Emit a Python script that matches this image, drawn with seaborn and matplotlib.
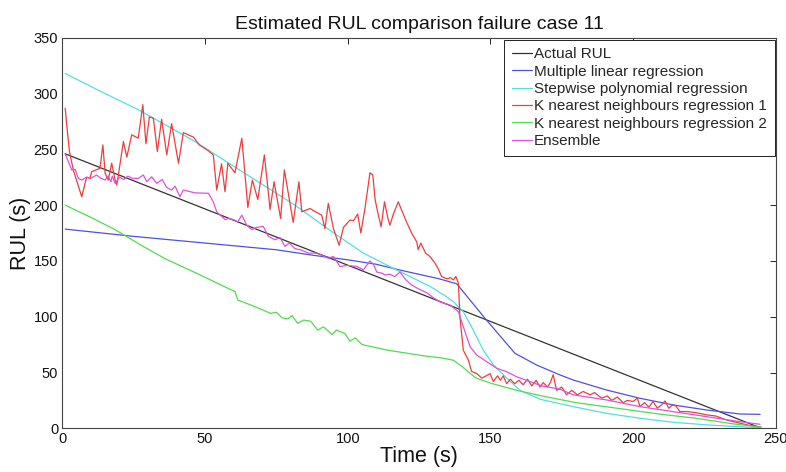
import matplotlib
matplotlib.use("Agg")
import matplotlib.pyplot as plt
import seaborn as sns
import pandas as pd

# ---------------- data ----------------
actual_t = [1, 245]
actual_y = [246, 0]

mlr_t = [1, 25, 50, 75, 88, 100, 110, 118, 125, 132, 138.2, 148.1, 158.6, 166.2,
         174.4, 179, 190.7, 202.4, 214.1, 225.8, 237.5, 244.5]
mlr_y = [178.5, 172, 166, 160, 155, 151, 147, 142, 138, 134, 129.5, 98.6, 67.2, 56.7,
         47.8, 43.3, 34.3, 26.9, 20.9, 16.4, 12.8, 12.5]

spr_t = [1, 12.6, 27, 46.5, 63, 81.5, 94, 105.5, 117, 129, 134, 137, 140.5, 144,
         147.5, 151, 155.7, 160.4, 167.4, 179, 190.7, 202.4, 214, 226, 237.5, 245]
spr_y = [318, 303, 285, 257, 230, 200, 177, 157, 142, 127, 119, 113.5, 104.5, 88,
         70, 57, 45, 34, 26, 19.4, 13.4, 9, 5.4, 3, 1.4, 0.5]

knn1_t = [1, 1.5, 2.5, 3.9, 6.8, 8.5, 9.7, 10.3, 13.2, 14.2, 15, 16.1, 17.3, 18.5,
          19.1, 21.4, 22.6, 24.3, 26.6, 28.2, 29.3, 30.5, 31.9, 33.3, 34.8, 36.6,
          38.3, 40.7, 42.4, 45.9, 48, 51, 52.9, 54.1, 55.8, 57, 58, 60.5, 62.9, 65,
          66.6, 68.5, 70.8, 72.8, 74.2, 76.5, 77.8, 80.9, 82.9, 83.9, 86.8, 88,
          90.9, 92, 93.2, 95, 97, 98.5, 100.8, 102, 103.5, 104.6, 106.1, 107.8,
          108.8, 109.6, 110.4, 111.7, 112.9, 114, 114.8, 116, 117.7, 119, 120.6,
          122.4, 124.2, 124.7, 125.6, 127.3, 128.8, 130.6, 131.7, 132.9, 134.7,
          136, 137, 137.9, 138.8, 139.3, 140.5, 142.3, 143.4, 145.2, 147, 148.5,
          149.9, 151, 152.5, 153.5, 154.5, 155.7, 157, 158.5, 160, 161.5, 163,
          164.5, 166, 167.4, 168.5, 170, 171, 172, 173.2, 175, 176.7, 178.5, 180.5,
          182.5, 184.9, 186.5, 189, 191, 192.5, 194.5, 196.5, 198, 200, 201.5,
          202.4, 204, 205.5, 207, 208.5, 210, 211.2, 212.5, 213.9, 215, 216.4,
          219, 222, 225.8, 229, 232.8, 237.5, 241, 244.5]
knn1_y = [287, 273, 248, 231, 207.5, 225, 224, 230, 233, 254, 228.5, 222.5, 237.5,
          222.5, 218, 257, 243, 263, 260, 290, 255, 279, 278, 248, 277, 245, 273,
          237.5, 265, 261, 254, 249, 245, 213.5, 237, 212, 237.5, 229, 260, 198,
          222.5, 205, 245, 196, 221, 188, 231.5, 184.5, 221, 194, 197, 195, 191,
          179, 201.6, 179, 164, 180, 186.6, 186, 192, 175, 198, 229, 227, 205, 195,
          180.6, 203, 189, 182, 192, 203, 195, 185, 175, 167, 160, 166, 157, 154,
          148, 143, 136, 134, 135, 133, 136, 130, 100, 70, 61, 51, 49, 45, 47, 49,
          42, 47, 43, 47, 40, 44, 40, 43, 39, 44, 38, 43, 37, 41, 37, 41, 48, 34,
          37, 30, 34, 30, 33, 30, 32, 27, 29, 25, 28, 23, 25, 24, 27, 19.4, 23, 19,
          24, 18, 21, 24.5, 18, 21, 20, 15, 15, 14, 12, 11, 7.4, 4.5, 2.5, 1.4]

knn2_t = [1, 10, 18.5, 27, 36, 47, 58, 60.5, 61.5, 67.5, 73, 75, 77, 79, 80.5,
          82.5, 84.5, 87, 89.5, 91.5, 94.5, 96, 99, 100.8, 102.6, 105, 114, 126.5,
          133, 137, 139.5, 143, 145, 150, 160, 170, 180, 190, 200, 210, 222, 235,
          245]
knn2_y = [200, 189, 178, 165, 152, 139, 125.5, 122.5, 115, 109, 103, 104, 99, 98,
          101, 94, 97, 96, 88, 91, 84, 88, 85, 78, 81, 75, 70, 65, 63, 61, 56.5,
          49, 45, 40.5, 33.5, 28, 23, 19.5, 16, 12.5, 9, 4, 1]

ens_t = [1, 2.1, 3.3, 4.5, 5.6, 6.8, 8.5, 10, 12, 13.5, 15, 16, 17, 17.5, 18.5, 20,
         21.5, 23, 24.5, 26.6, 28.4, 29.6, 31.3, 33.1, 35, 36.5, 38.3, 39.5, 41.2,
         42.4, 46.5, 51.2, 52.9, 54.1, 55.8, 57, 58.2, 60, 61.5, 62.9, 64.6, 66.4,
         68, 70.4, 72.2, 74.5, 76.3, 78, 79.5, 81.5, 83.5, 86.2, 89, 91, 93.2, 95,
         97.3, 100, 103.2, 105.5, 107.8, 109, 110.2, 112, 113.1, 114.8, 116.5,
         118.3, 120.4, 122.4, 124.4, 127.7, 130, 132.3, 135.8, 138.8, 140.5, 142.9,
         145.2, 148.7, 152.2, 155.7, 159.2, 163.9, 168, 174.4, 179, 190.7, 202.4,
         214.1, 225.8, 237.5, 244.5]
ens_y = [246, 239, 231.5, 232, 224, 222.5, 225, 224, 227, 224, 222.5, 226, 221, 226,
         219.5, 225, 223, 226, 224, 224, 227, 221, 225.4, 219.5, 223, 216, 213.5,
         217, 207.5, 213.5, 211, 210.6, 203, 194, 190, 187, 188, 187, 185, 191, 182,
         178, 180, 181, 172, 169, 171, 163, 166, 161, 160, 157, 157, 155, 152.3,
         154, 145, 146, 145, 142, 150, 147, 140, 139, 137.4, 138, 136, 140, 133,
         128.4, 125.5, 121.5, 117, 113.4, 110.5, 104.5, 91, 73, 65.7, 59.7, 53.8,
         50.7, 46.2, 41.8, 38, 35, 30, 25.4, 19.4, 14.9, 10.4, 5.9, 3.6]

series = [
    ("Actual RUL", actual_t, actual_y, "#333333"),
    ("Multiple linear regression", mlr_t, mlr_y, "#5050e0"),
    ("Stepwise polynomial regression", spr_t, spr_y, "#50e0e0"),
    ("K nearest neighbours regression 1", knn1_t, knn1_y, "#f03c3c"),
    ("K nearest neighbours regression 2", knn2_t, knn2_y, "#50dc50"),
    ("Ensemble", ens_t, ens_y, "#e050e0"),
]

# ---------------- style ----------------
sns.set_theme(style="white")
plt.rcParams["font.family"] = ["Liberation Sans", "DejaVu Sans"]

fig = plt.figure(figsize=(7.86, 4.72), dpi=100)
ax = fig.add_axes([0.0793, 0.0926, 0.9077, 0.8274])

for name, t, y, col in series:
    df = pd.DataFrame({"Time": t, "RUL": y})
    sns.lineplot(data=df, x="Time", y="RUL", ax=ax, color=col, linewidth=0.9,
                 label=name, estimator=None, sort=False)

ax.set_xlim(0, 250)
ax.set_ylim(0, 350)
ax.set_xticks(range(0, 251, 50))
ax.set_yticks(range(0, 351, 50))
ax.tick_params(direction="in", length=4, width=0.7, colors="#222222",
               labelsize=10.5, top=True, right=True, pad=3)
ax.tick_params(axis="x", labelcolor="#111111")
ax.tick_params(axis="y", labelcolor="#111111")
for s in ax.spines.values():
    s.set_color("#444444")
    s.set_linewidth(0.8)

ax.set_xlabel("Time (s)", fontsize=15.5, color="#111111", labelpad=0)
ax.set_ylabel("RUL (s)", fontsize=15.5, color="#111111", labelpad=2)
ax.set_title("Estimated RUL comparison failure case 11", fontsize=14,
             color="#111111", pad=6)

leg = ax.legend(loc="upper right", bbox_to_anchor=(0.9985, 0.995), fontsize=11,
                frameon=True, fancybox=False, framealpha=1, edgecolor="#222222",
                borderpad=0.5, labelspacing=0.22, handlelength=1.3,
                handletextpad=0.15, borderaxespad=0.0)
leg.get_frame().set_linewidth(0.7)
for ln, (_, _, _, col) in zip(leg.get_lines(), series):
    ln.set_color(col)
    ln.set_linewidth(0.9)

fig.savefig("out.png", dpi=100, facecolor="white")
